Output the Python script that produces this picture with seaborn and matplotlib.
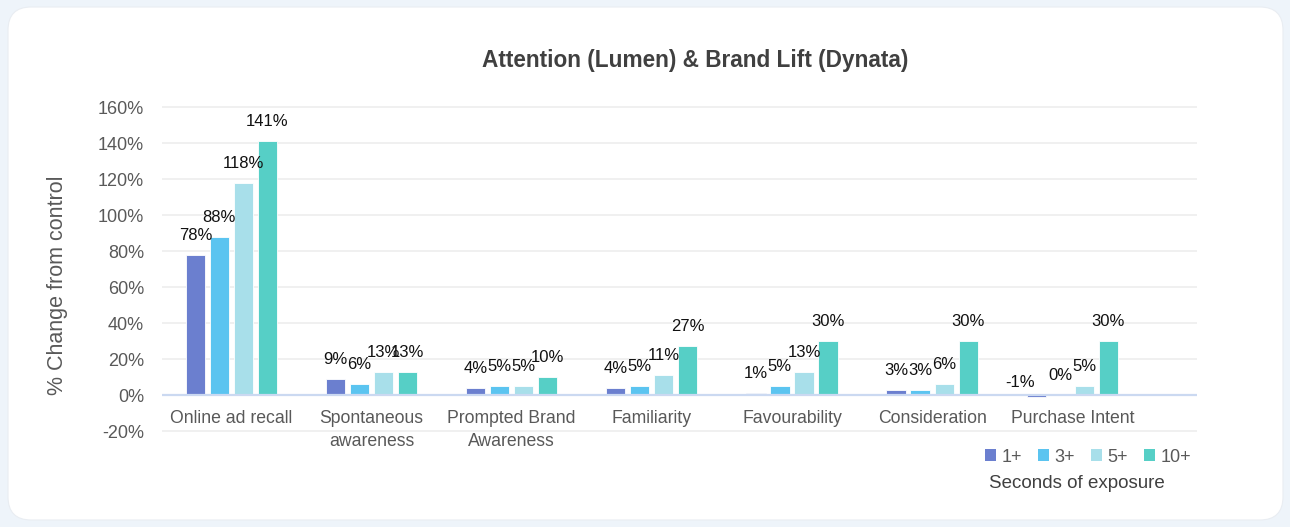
import numpy as np
import pandas as pd
import matplotlib
matplotlib.use("Agg")
import matplotlib.pyplot as plt
from matplotlib.patches import FancyBboxPatch, Patch
import seaborn as sns

# Brand-lift metrics by seconds of exposure (% change from control)
categories = ["Online ad recall", "Spontaneous\nawareness", "Prompted Brand\nAwareness",
              "Familiarity", "Favourability", "Consideration", "Purchase Intent"]
series = ["1+", "3+", "5+", "10+"]
lift_1 = [78, 9, 4, 4, 1, 3, -1]
lift_3 = [88, 6, 5, 5, 5, 3, 0]
lift_5 = [118, 13, 5, 11, 13, 6, 5]
lift_10 = [141, 13, 10, 27, 30, 30, 30]
y_ticks = [-20, 0, 20, 40, 60, 80, 100, 120, 140, 160]

colors = ["#6b7fcf", "#5bc4f0", "#a8dfea", "#56cfc6"]

df = pd.DataFrame({
    "category": categories * 4,
    "exposure": [s for s in series for _ in categories],
    "value": lift_1 + lift_3 + lift_5 + lift_10,
})

sns.set_theme(style="white")
plt.rcParams["font.family"] = ["Liberation Sans", "DejaVu Sans"]

W, H = 1290, 527
fig = plt.figure(figsize=(W / 100, H / 100), dpi=100)
fig.patch.set_facecolor("#eef4fa")

# white rounded card behind everything
card = FancyBboxPatch((8 / W, 7 / H), (1283 - 8) / W, (520 - 7) / H,
                      boxstyle="round,pad=0,rounding_size=0.018",
                      transform=fig.transFigure, facecolor="white",
                      edgecolor="#e9edf2", linewidth=0.8, zorder=-10,
                      mutation_aspect=W / H)
fig.patches.append(card)

ymin, ymax = -20.6, 160.6
px_per_unit = (431 - 107) / 180.0
top_px = 107 - (ymax - 160) * px_per_unit
bot_px = 431 + (-20 - ymin) * px_per_unit
ax = fig.add_axes([162 / W, 1 - bot_px / H, (1197 - 162) / W, (bot_px - top_px) / H])
ax.set_facecolor("none")
ax.set_zorder(5)

sns.barplot(data=df, x="category", y="value", hue="exposure", hue_order=series,
            order=categories, palette=colors, saturation=1, width=0.686, gap=0.2,
            errorbar=None, edgecolor="white", linewidth=0.6, legend=False,
            ax=ax, zorder=3)

ax.set_ylim(ymin, ymax)
ax.set_xlim(-0.495, 6.89)
ax.set_yticks(y_ticks)
ax.set_yticklabels([f"{t}%" for t in y_ticks], fontsize=13, color="#595959")
ax.tick_params(axis="y", length=0, pad=13)
ax.set_xticks([])
ax.set_xlabel("")
ax.set_ylabel("")
for s in ax.spines.values():
    s.set_visible(False)

for t in y_ticks:
    if t == 0:
        continue
    ax.axhline(t, color="#efefef", linewidth=1.3, zorder=1)
ax.axhline(0, color="#cbd9f1", linewidth=1.6, zorder=4)

# category labels hang just below the zero line
for i, cat in enumerate(categories):
    ax.annotate(cat, xy=(i, 0), xytext=(0, -15), textcoords="offset pixels",
                ha="center", va="top", fontsize=12.7, color="#595959",
                linespacing=1.5)

# value labels above each bar
for container, vals in zip(ax.containers, [lift_1, lift_3, lift_5, lift_10]):
    for bar, v in zip(container, vals):
        cx = bar.get_x() + bar.get_width() / 2
        if v < 0:
            ax.annotate(f"{v}%", xy=(cx, 0), xytext=(-16, 5), textcoords="offset pixels",
                        ha="center", va="bottom", fontsize=12, color="#111111")
        else:
            ax.annotate(f"{v}%", xy=(cx, v), xytext=(0, 12), textcoords="offset pixels",
                        ha="center", va="bottom", fontsize=12, color="#111111")

fig.text(695 / W, 1 - 60 / H, "Attention (Lumen) & Brand Lift (Dynata)",
         ha="center", va="center", fontsize=16.3, fontweight="bold", color="#404040")

fig.text(58 / W, 1 - 285 / H, "% Change from control", rotation=90,
         ha="center", va="center", fontsize=15.5, color="#595959")

handles = [Patch(facecolor=c, edgecolor="none") for c in colors]
leg = fig.legend(handles, series, loc="center", bbox_to_anchor=(1088 / W, 1 - 457 / H),
                 ncol=4, frameon=False, fontsize=13, handlelength=0.6,
                 handleheight=0.6, handletextpad=0.3, columnspacing=0.9,
                 borderpad=0, borderaxespad=0)
for txt in leg.get_texts():
    txt.set_color("#595959")
fig.text(1077 / W, 1 - 484 / H, "Seconds of exposure", ha="center", va="center",
         fontsize=13.5, color="#404040")

fig.savefig("out.png", dpi=100, facecolor=fig.get_facecolor())
